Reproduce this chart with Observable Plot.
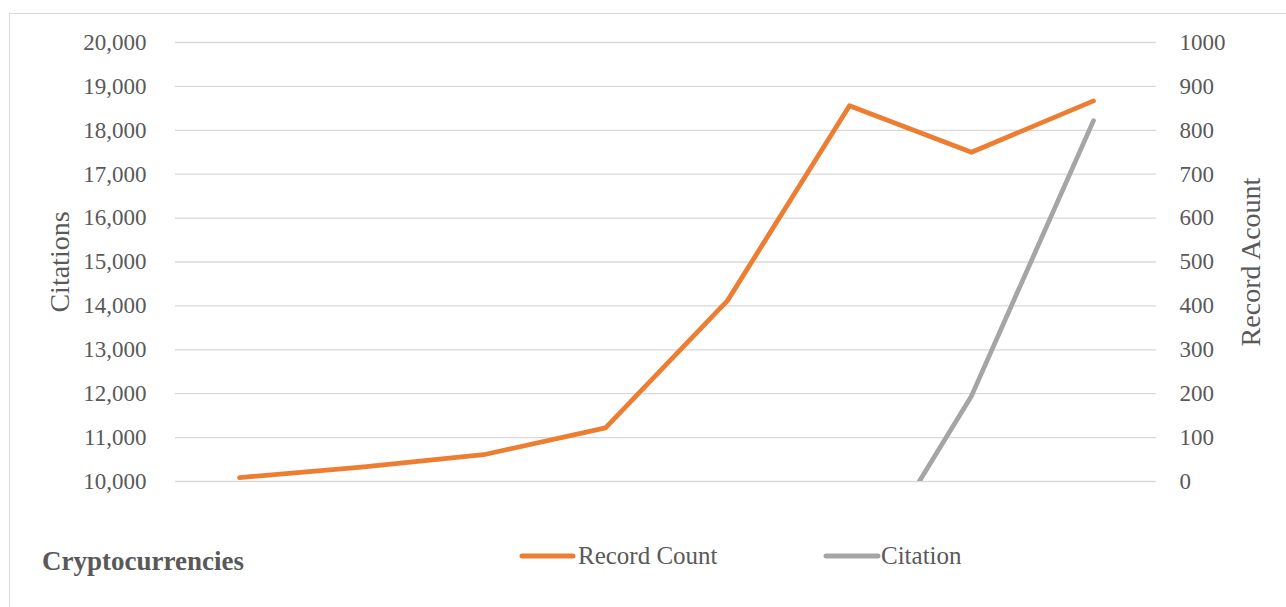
<!DOCTYPE html>
<html>
<head>
<meta charset="utf-8">
<script src="https://cdn.jsdelivr.net/npm/d3@7"></script>
<script src="https://cdn.jsdelivr.net/npm/@observablehq/plot@0.6"></script>
<style>
  html, body { margin: 0; padding: 0; background: #fff; }
  #wrap { position: relative; width: 1286px; height: 607px; overflow: hidden; font-family: "Liberation Serif", serif; color: #595959; }
  #border { position: absolute; left: 9px; top: 13px; width: 1300px; height: 620px; border: 1.5px solid #d9d9d9; box-sizing: border-box; }
  #chart { position: absolute; left: 0; top: 0; }
  .leg { position: absolute; top: 539px; height: 34px; font-size: 25px; white-space: nowrap; }
  .leg svg { position: absolute; left: 0; top: 0; }
  .leg span { position: absolute; top: 3px; }
  #caption { position: absolute; left: 42px; top: 546px; font-size: 27px; font-weight: bold; white-space: nowrap; }
</style>
</head>
<body>
<div id="wrap">
  <div id="border"></div>
  <div id="chart"></div>
  <div id="caption">Cryptocurrencies</div>
  <div class="leg" style="left:516px;">
    <svg width="64" height="32"><line x1="6" y1="17" x2="57" y2="17" stroke="#ED7D31" stroke-width="5" stroke-linecap="round"/></svg>
    <span style="left:62px;">Record Count</span>
  </div>
  <div class="leg" style="left:820px;">
    <svg width="64" height="32"><line x1="6" y1="17" x2="58" y2="17" stroke="#A5A5A5" stroke-width="5" stroke-linecap="round"/></svg>
    <span style="left:61px;">Citation</span>
  </div>
</div>
<script>
// Categories (x-axis labels are not shown in the chart)
const years = ["2014", "2015", "2016", "2017", "2018", "2019", "2020", "2021"];
// Record Count (right axis, 0–1000)
const recordCount = [9, 33, 61, 122, 412, 856, 750, 867];
// Citation (left axis, 10,000–20,000); values below 10,000 fall outside the plot
const citations = [null, null, null, null, null, 7400, 11950, 18220];
// Tick values
const leftTicks = [10000, 11000, 12000, 13000, 14000, 15000, 16000, 17000, 18000, 19000, 20000];
const rightTicks = [0, 100, 200, 300, 400, 500, 600, 700, 800, 900, 1000];

// Map the right-axis scale onto the left-axis scale
const toLeft = v => 10000 + v * 10;

const rcData = years.map((y, i) => ({year: y, value: toLeft(recordCount[i])}));
const citData = years.map((y, i) => ({year: y, value: citations[i]}));

const chart = Plot.plot({
  width: 1286,
  height: 607,
  marginTop: 42,
  marginBottom: 126,
  marginLeft: 175,
  marginRight: 130,
  style: {fontFamily: "Liberation Serif, serif", fontSize: "23px", color: "#595959", background: "transparent"},
  x: {type: "point", domain: years, padding: 0.5, axis: null},
  y: {domain: [10000, 20000], axis: null},
  marks: [
    Plot.ruleY(leftTicks, {stroke: "#d9d9d9", strokeWidth: 1.3}),
    Plot.axisY(leftTicks, {anchor: "left", tickSize: 0, tickPadding: 29, tickFormat: d3.format(","), label: null, fill: "#595959"}),
    Plot.axisY(rightTicks.map(toLeft), {anchor: "right", tickSize: 0, tickPadding: 23, tickFormat: d => String((d - 10000) / 10), label: null, fill: "#595959"}),
    Plot.text(["Citations"], {text: d => d, frameAnchor: "left", textAnchor: "middle", dx: -115, rotate: -90, fontSize: 28, fill: "#595959"}),
    Plot.text(["Record Acount"], {text: d => d, frameAnchor: "right", textAnchor: "middle", dx: 95, rotate: -90, fontSize: 28, fill: "#595959"}),
    Plot.line(citData, {x: "year", y: "value", stroke: "#A5A5A5", strokeWidth: 4.75, strokeLinecap: "round", strokeLinejoin: "round", clip: "frame"}),
    Plot.line(rcData, {x: "year", y: "value", stroke: "#ED7D31", strokeWidth: 4.75, strokeLinecap: "round", strokeLinejoin: "round", clip: "frame"})
  ]
});
document.getElementById("chart").appendChild(chart);
</script>
</body>
</html>
